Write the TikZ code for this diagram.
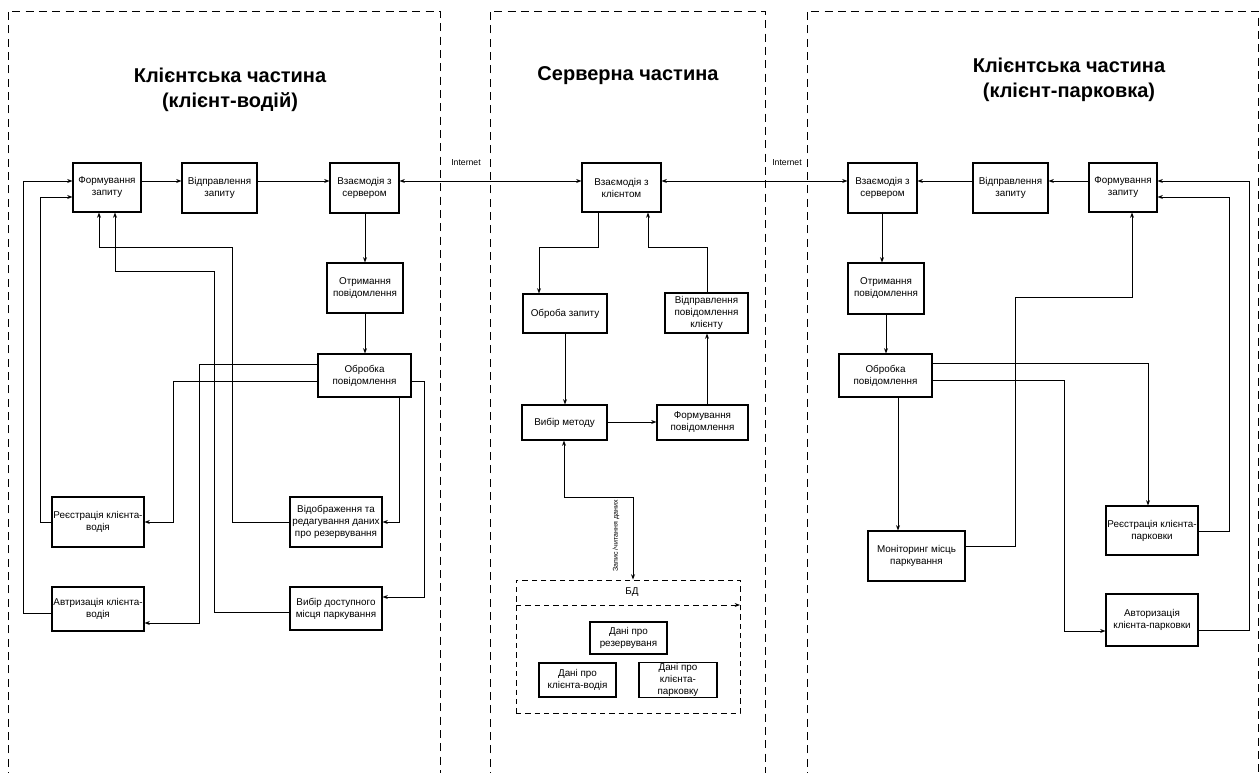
\documentclass[tikz,border=0pt]{standalone}
\usepackage{fontspec}
\setmainfont{Liberation Sans}
\usetikzlibrary{arrows.meta}
\tikzset{
  box/.style={draw, line width=0.8pt, inner sep=1pt, align=center, font=\fontsize{7.4}{9}\selectfont},
  region/.style={draw, line width=0.7pt, dash pattern=on 6pt off 4pt},
  dbbox/.style={draw, line width=0.7pt, dash pattern=on 4pt off 3pt},
  conn/.style={line width=0.7pt, -{Stealth[length=4pt,width=3pt]}},
  dconn/.style={line width=0.7pt, {Stealth[length=4pt,width=3pt]}-{Stealth[length=4pt,width=3pt]}},
  title/.style={align=center, font=\fontsize{15}{18.5}\selectfont\bfseries},
  small/.style={font=\fontsize{6.5}{8}\selectfont, inner sep=0pt}
}
\newcommand\bx[7][box]{\node[#1, minimum width={(#5-#3)*0.75pt}, minimum height={(#6-#4)*0.75pt}] (#2) at ({(#3+#5)/2},{(#4+#6)/2}) {#7};}
\begin{document}
\begin{tikzpicture}[x=0.75pt, y=-0.75pt]
\useasboundingbox (0,0) rectangle (1260,773);
% regions
\draw[region] (8,780) -- (8,11) -- (440,11) -- (440,780);
\draw[region] (490,780) -- (490,11) -- (765,11) -- (765,780);
\draw[region] (807,780) -- (807,11) -- (1258,11) -- (1258,780);
% titles
\node[title] (ltitle) at (230,90) {Клієнтська частина\\(клієнт-водій)};
\node[title] (ctitle) at (628,76) {Серверна частина};
\node[title] (rtitle) at (1069,80) {Клієнтська частина\\(клієнт-парковка)};
% left boxes
\bx{lform}{73}{163}{141}{212}{Формування\\запиту}
\bx{lsend}{182}{163}{257}{213}{Відправлення\\запиту}
\bx{lint}{330}{163}{399}{213}{Взаємодія з\\сервером}
\bx{lrecv}{327}{263}{403}{313}{Отримання\\повідомлення}
\bx{lproc}{318}{354}{411}{397}{Обробка\\повідомлення}
\bx{lreg}{52}{497}{144}{547}{Реєстрація клієнта-\\водія}
\bx{lview}{290}{497}{382}{547}{Відображення та\\редагування даних\\про резервування}
\bx{lauth}{52}{587}{144}{631}{Автризація клієнта-\\водія}
\bx{lpick}{290}{587}{382}{630}{Вибір доступного\\місця паркування}
% center boxes
\bx{cint}{582}{163}{661}{212}{Взаємодія з\\клієнтом}
\bx{cproc}{523}{294}{607}{333}{Оброба запиту}
\bx{csend}{665}{293}{748}{333}{Відправлення\\повідомлення\\клієнту}
\bx{cmeth}{522}{405}{607}{440}{Вибір методу}
\bx{cform}{657}{405}{748}{440}{Формування\\повідомлення}
\bx[dbbox]{db}{516}{580}{740}{713}{}
\node[box, draw=none] (dblabel) at (632,592) {БД};
\coordinate (dbl) at (516,605);
\coordinate (dbr) at (740,605);
\draw[dbbox, -{Stealth[length=4pt,width=3pt]}] (dbl) -- (dbr);
\bx{d1}{590}{622}{667}{654}{Дані про\\резервуваня}
\bx{d2}{539}{663}{616}{697}{Дані про\\клієнта-водія}
\bx{d3}{639}{663}{717}{697}{Дані про\\клієнта-\\парковку}
% right boxes
\bx{rint}{848}{163}{917}{213}{Взаємодія з\\сервером}
\bx{rsend}{973}{163}{1048}{213}{Відправлення\\запиту}
\bx{rform}{1089}{163}{1157}{212}{Формування\\запиту}
\bx{rrecv}{848}{263}{924}{314}{Отримання\\повідомлення}
\bx{rproc}{839}{354}{932}{397}{Обробка\\повідомлення}
\bx{rmon}{868}{531}{965}{581}{Моніторинг місць\\паркування}
\bx{rreg}{1106}{506}{1198}{555}{Реєстрація клієнта-\\парковки}
\bx{rauth}{1106}{594}{1198}{646}{Авторизація\\клієнта-парковки}
% labels
\node[small] (inet1) at (466,163) {Internet};
\node[small] (inet2) at (787,163) {Internet};
\node[small, font=\fontsize{5.3}{6}\selectfont, rotate=90] (rw) at (616,536) {Запис /читання даних};
% left connectors
\draw[conn] (lform.east|-0,181) -- (lsend.west|-0,181);
\draw[conn] (lsend.east|-0,181) -- (lint.west|-0,181);
\draw[dconn] (lint.east|-0,181) -- (cint.west|-0,181);
\draw[conn] (365,0|-lint.south) -- (365,0|-lrecv.north);
\draw[conn] (365,0|-lrecv.south) -- (365,0|-lproc.north);
\draw[conn] (lproc.west|-0,381) -- (173,381) -- (173,522) -- (lreg.east|-0,522);
\draw[conn] (lproc.west|-0,364) -- (199,364) -- (199,623) -- (lauth.east|-0,623);
\draw[conn] (399,0|-lproc.south) -- (399,522) -- (lview.east|-0,522);
\draw[conn] (lproc.east|-0,381) -- (424,381) -- (424,597) -- (lpick.east|-0,597);
\draw[conn] (lreg.west|-0,522) -- (40,522) -- (40,197) -- (lform.west|-0,197);
\draw[conn] (lauth.west|-0,613) -- (23,613) -- (23,181) -- (lform.west|-0,181);
\draw[conn] (lview.west|-0,522) -- (232,522) -- (232,247) -- (99,247) -- (99,0|-lform.south);
\draw[conn] (lpick.west|-0,612) -- (214,612) -- (214,271) -- (115,271) -- (115,0|-lform.south);
% center connectors
\draw[conn] (598,0|-cint.south) -- (598,247) -- (539,247) -- (539,0|-cproc.north);
\draw[conn] (565,0|-cproc.south) -- (565,0|-cmeth.north);
\draw[conn] (cmeth.east|-0,422) -- (cform.west|-0,422);
\draw[conn] (707,0|-cform.north) -- (707,0|-csend.south);
\draw[conn] (707,0|-csend.north) -- (707,247) -- (648,247) -- (648,0|-cint.south);
\draw[dconn] (564,0|-cmeth.south) -- (564,497) -- (633,497) -- (633,0|-db.north);
% right connectors
\draw[dconn] (cint.east|-0,181) -- (rint.west|-0,181);
\draw[conn] (rform.west|-0,181) -- (rsend.east|-0,181);
\draw[conn] (rsend.west|-0,181) -- (rint.east|-0,181);
\draw[conn] (882,0|-rint.south) -- (882,0|-rrecv.north);
\draw[conn] (886,0|-rrecv.south) -- (886,0|-rproc.north);
\draw[conn] (898,0|-rproc.south) -- (898,0|-rmon.north);
\draw[conn] (rproc.east|-0,363) -- (1148,363) -- (1148,0|-rreg.north);
\draw[conn] (rproc.east|-0,380) -- (1064,380) -- (1064,631) -- (rauth.west|-0,631);
\draw[conn] (rmon.east|-0,546) -- (1015,546) -- (1015,297) -- (1132,297) -- (1132,0|-rform.south);
\draw[conn] (rreg.east|-0,531) -- (1229,531) -- (1229,197) -- (rform.east|-0,197);
\draw[conn] (rauth.east|-0,630) -- (1249,630) -- (1249,181) -- (rform.east|-0,181);
\end{tikzpicture}
\end{document}
